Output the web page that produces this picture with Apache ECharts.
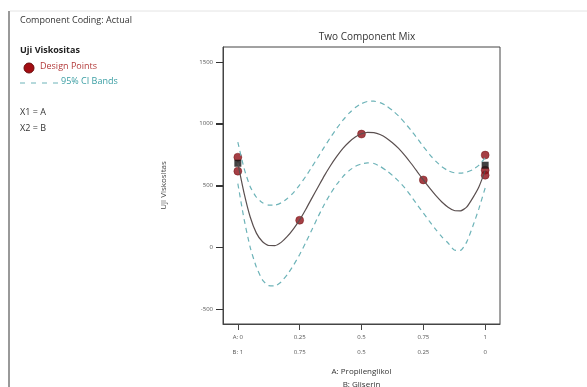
<!DOCTYPE html>
<html>
<head>
<meta charset="utf-8">
<script src="https://cdn.jsdelivr.net/npm/echarts@6/dist/echarts.min.js"></script>
<style>
  html, body { margin: 0; padding: 0; background: #fff; }
  #chart { width: 587px; height: 387px; }
</style>
</head>
<body>
<div id="chart"></div>
<script>
// fitted curve and 95% CI bands
const mixX = [0, 0.025, 0.05, 0.075, 0.1, 0.125, 0.15, 0.175, 0.2, 0.225, 0.25, 0.275, 0.3, 0.325, 0.35, 0.375, 0.4, 0.425, 0.45, 0.475, 0.5,
  0.525, 0.55, 0.575, 0.6, 0.625, 0.65, 0.675, 0.7, 0.725, 0.75, 0.775, 0.8, 0.825, 0.85, 0.875, 0.9, 0.925, 0.95, 0.975, 1]
const fitValues = [680, 440, 245, 115, 45, 15, 14, 40, 88, 150, 222, 308, 400, 490, 580, 662, 735, 800, 852, 892, 918,
  930, 928, 912, 885, 846, 800, 743, 680, 613, 545, 480, 420, 367, 325, 298, 295, 325, 400, 490, 620]
const upperCI = [850, 640, 490, 405, 360, 342, 342, 360, 395, 443, 505, 575, 652, 732, 812, 890, 962, 1028, 1085, 1130, 1162,
  1180, 1182, 1170, 1145, 1108, 1062, 1007, 947, 883, 815, 752, 697, 652, 620, 603, 600, 608, 628, 665, 725]
const lowerCI = [515, 230, 0, -160, -265, -310, -312, -280, -220, -145, -58, 40, 145, 250, 348, 435, 510, 572, 620, 655, 675,
  683, 678, 655, 622, 582, 535, 480, 415, 345, 278, 210, 145, 85, 35, -22, -25, 42, 170, 315, 480]

// design points
const designX = [0, 0, 0.25, 0.5, 0.75, 1, 1, 1]
const designY = [729, 616, 219, 916, 545, 746, 624, 583]
const replX = [0, 1]
const replY = [680, 664]

const yTicks = [-500, 0, 500, 1000, 1500]
const xTicks = [0, 0.25, 0.5, 0.75, 1]
const aLabels = ['A: 0', '0.25', '0.5', '0.75', '1']
const bLabels = ['B: 1', '0.75', '0.5', '0.25', '0']

const xMin = -0.06
const xMax = 1.06

const font = '"Open Sans", "Noto Sans", sans-serif'
const teal = '#6db3b8'

function pairs(xs, ys) {
  return xs.map((x, i) => [x, ys[i]])
}

const chart = echarts.init(document.getElementById('chart'), undefined, { renderer: 'canvas' })

const option = {
  animation: false,
  textStyle: { fontFamily: font },
  title: {
    text: 'Two Component Mix',
    left: 362,
    textAlign: 'center',
    top: 27,
    textStyle: { fontSize: 10, fontWeight: 'normal', color: '#333', fontFamily: font },
  },
  grid: {
    left: 223,
    top: 47,
    width: 277,
    height: 277,
    outerBoundsMode: 'none',
    containLabel: false,
    show: true,
    borderColor: '#444',
    borderWidth: 1,
    backgroundColor: '#fff',
  },
  xAxis: {
    type: 'value',
    min: xMin,
    max: xMax,
    splitLine: { show: false },
    axisLine: { onZero: false, lineStyle: { color: '#444' } },
    axisTick: { customValues: xTicks, length: 6, lineStyle: { color: '#444' } },
    axisLabel: {
      customValues: xTicks,
      color: '#555',
      fontSize: 6,
      lineHeight: 15,
      margin: 6,
      formatter: (v) => {
        const i = xTicks.indexOf(v)
        return i < 0 ? '' : aLabels[i] + '\n' + bLabels[i]
      },
    },
    name: 'A: Propilenglikol\nB: Gliserin',
    nameLocation: 'middle',
    nameGap: 37,
    nameTextStyle: { fontSize: 8, color: '#333', lineHeight: 13 },
  },
  yAxis: {
    type: 'value',
    min: -620,
    max: 1620,
    splitLine: { show: false },
    axisLine: { show: true, onZero: false, lineStyle: { color: '#444' } },
    axisTick: { show: true, customValues: yTicks, length: 7, lineStyle: { color: '#333', width: 1 } },
    axisLabel: { customValues: yTicks, color: '#555', fontSize: 6, margin: 10, formatter: (v) => String(v) },
    name: 'Uji Viskositas',
    nameLocation: 'middle',
    nameGap: 55,
    nameTextStyle: { fontSize: 8, color: '#444' },
  },
  graphic: [
    { type: 'line', shape: { x1: 9, y1: 11, x2: 9, y2: 387 }, style: { stroke: '#999', lineWidth: 2 } },
    { type: 'line', shape: { x1: 10, y1: 11, x2: 587, y2: 11 }, style: { stroke: '#e4e4e4', lineWidth: 1 } },
    { type: 'text', left: 20, top: 16, style: { text: 'Component Coding: Actual', font: '9px ' + font, fill: '#333' } },
    { type: 'text', left: 20, top: 46, style: { text: 'Uji Viskositas', font: 'bold 9px ' + font, fill: '#222' } },
    { type: 'circle', shape: { cx: 29, cy: 68, r: 5 }, style: { fill: '#a30d12', stroke: '#6a0a0a', lineWidth: 1 } },
    { type: 'text', left: 40, top: 62, style: { text: 'Design Points', font: '9px ' + font, fill: '#b33a3a' } },
    { type: 'line', shape: { x1: 20, y1: 83, x2: 60, y2: 83 }, style: { stroke: teal, lineWidth: 1, lineDash: [5, 6] } },
    { type: 'text', left: 61, top: 77, style: { text: '95% CI Bands', font: '9px ' + font, fill: '#3a9ea3' } },
    { type: 'text', left: 20, top: 108, style: { text: 'X1 = A', font: '9px ' + font, fill: '#333' } },
    { type: 'text', left: 20, top: 124, style: { text: 'X2 = B', font: '9px ' + font, fill: '#333' } },
  ],
  series: [
    {
      type: 'line',
      data: pairs(mixX, upperCI),
      smooth: 0.2,
      symbol: 'none',
      lineStyle: { color: teal, width: 1.2, type: [5, 4] },
    },
    {
      type: 'line',
      data: pairs(mixX, lowerCI),
      smooth: 0.2,
      symbol: 'none',
      lineStyle: { color: teal, width: 1.2, type: [5, 4] },
    },
    {
      type: 'line',
      data: pairs(mixX, fitValues),
      smooth: 0.2,
      symbol: 'none',
      lineStyle: { color: '#5a4f4f', width: 1.2 },
    },
    {
      type: 'scatter',
      data: pairs(designX, designY),
      symbol: 'circle',
      symbolSize: 8,
      itemStyle: { color: '#8e0f16', borderColor: '#6a0a0a', borderWidth: 0.5 },
    },
    {
      type: 'scatter',
      data: pairs(replX, replY),
      symbol: 'rect',
      symbolSize: 7,
      itemStyle: { color: '#111' },
    },
  ],
}

chart.setOption(option)

// y tick marks: place them from the chart's own scale, outside the box
const tickMarks = yTicks.map((v) => {
  const p = chart.convertToPixel({ gridIndex: 0 }, [xMin, v])
  const y = Math.round(p[1]) + 0.5
  return {
    type: 'line',
    shape: { x1: p[0] - 7, y1: y, x2: p[0], y2: y },
    style: { stroke: '#333', lineWidth: 1 },
    z: 100,
  }
})
chart.setOption({ graphic: option.graphic.concat(tickMarks) })
</script>
</body>
</html>
